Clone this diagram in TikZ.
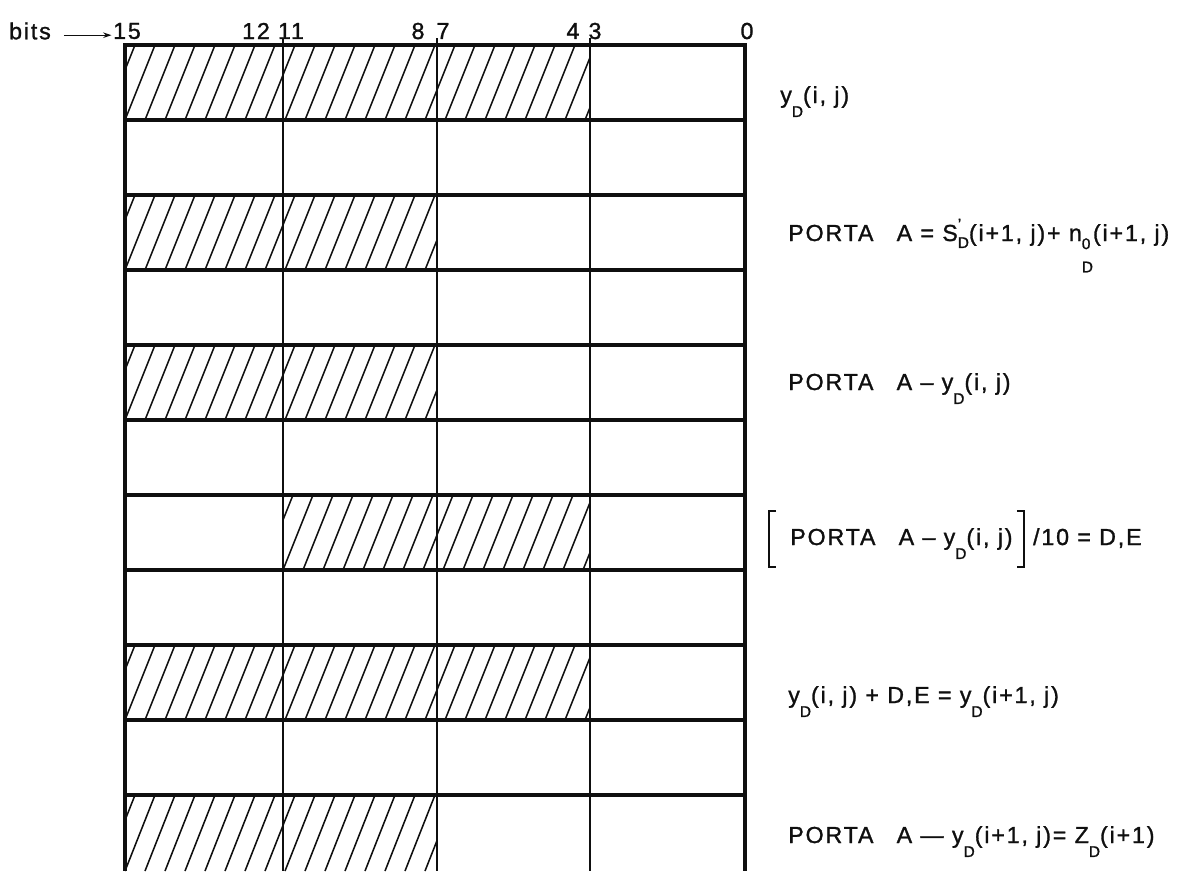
\documentclass[tikz,border=0pt]{standalone}
\usepackage{fontspec}
\setmainfont{Liberation Sans}[LetterSpace=8, FakeBold=1.2]
\usepackage{tikz}
\usetikzlibrary{arrows.meta}
\definecolor{inkclr}{RGB}{15,15,15}
% subscripts of the lettering
\newcommand{\sbs}{\fontsize{11}{12}\selectfont}
\newcommand{\dn}[1]{\raisebox{-0.6em}{\sbs #1}}
\newcommand{\sprm}{\rlap{\raisebox{0.5em}{\sbs '}}\raisebox{-0.3em}{\sbs D}}
\newcommand{\nzro}{\rlap{\raisebox{-0.35em}{\sbs 0}}\raisebox{-1.35em}{\sbs D}}
% hatched part of a row: x1, top, x2, bottom
\newcommand{\hatch}[4]{%
  \begin{scope}
    \clip (#1,#2) rectangle (#3,#4);
    \foreach \k in {-40,-20,...,480}
      \draw[hatchline] ({#1+\k},#4) -- ++(30,{#2-#4});
  \end{scope}}

\begin{document}
\begin{tikzpicture}[x=0.025cm, y=-0.025cm, inkclr,
    font=\fontsize{16.5}{19}\selectfont,
    rowline/.style={line width=3.4pt},
    colline/.style={line width=0.9pt},
    hatchline/.style={line width=1.1pt},
    lab/.style={anchor=base west, inner sep=0pt},
    bitlab/.style={inner sep=1pt}]
  \useasboundingbox (0,0) rectangle (1182,871);
  % bit numbers
  \node[bitlab] (bits) at (30,31) {bits};
  \node[bitlab] (b15) at (127,31) {15};
  \node[bitlab] (b12) at (256,31) {12};
  \node[bitlab] (b11) at (291,31) {11};
  \node[bitlab] (b8)  at (418,31) {8};
  \node[bitlab] (b7)  at (443,31) {7};
  \node[bitlab] (b4)  at (573,31) {4};
  \node[bitlab] (b3)  at (595,31) {3};
  \node[bitlab] (b0)  at (747,31) {0};
  \draw[line width=0.8pt, -{Stealth[length=6pt, width=4pt]}, shorten <=8pt]
    ([yshift=-3pt]bits.east) -- ([yshift=-3pt]b15.west);
  % hatching: rows 1,3,5,7,9,11
  \hatch{125}{45}{590}{120}
  \hatch{125}{195}{437}{270}
  \hatch{125}{345}{437}{420}
  \hatch{283}{495}{590}{570}
  \hatch{125}{645}{590}{720}
  \hatch{125}{795}{437}{871}
  % register grid
  \foreach \c in {283,437,590}
    \draw[colline] (\c,38) -- (\c,871);
  \foreach \r in {45,120,...,795}
    \draw[rowline] (125,\r) -- (745,\r);
  \draw[rowline] (125,43) -- (125,871);
  \draw[rowline] (745,43) -- (745,871);
  % operations
  \node[lab] (op1) at (780,103) {y\dn{D}(i, j)};
  \node[lab] (op3) at (788,241) {PORTA\quad A = S\sprm(i+1, j)+ n\nzro(i+1, j)};
  \node[lab] (op5) at (788,390) {PORTA\quad A – y\dn{D}(i, j)};
  \node[lab] (op7) at (790,545) {PORTA\quad A – y\dn{D}(i, j)};
  \node[lab, anchor=base west] (op7b) at ([xshift=0.5cm]op7.base east) {/10 = D,E};
  \node[lab] (op9) at (788,703) {y\dn{D}(i, j) + D,E = y\dn{D}(i+1, j)};
  \node[lab] (op11) at (788,843) {PORTA\quad A — y\dn{D}(i+1, j)= Z\dn{D}(i+1)};
  % brackets
  \draw[line width=1.2pt] ([shift={(-14,-34)}]op7.base west) -- ++(-7,0) -- ++(0,56) -- ++(7,0);
  \draw[line width=1.2pt] ([shift={(4,-34)}]op7.base east) -- ++(7,0) -- ++(0,56) -- ++(-7,0);
\end{tikzpicture}
\end{document}
